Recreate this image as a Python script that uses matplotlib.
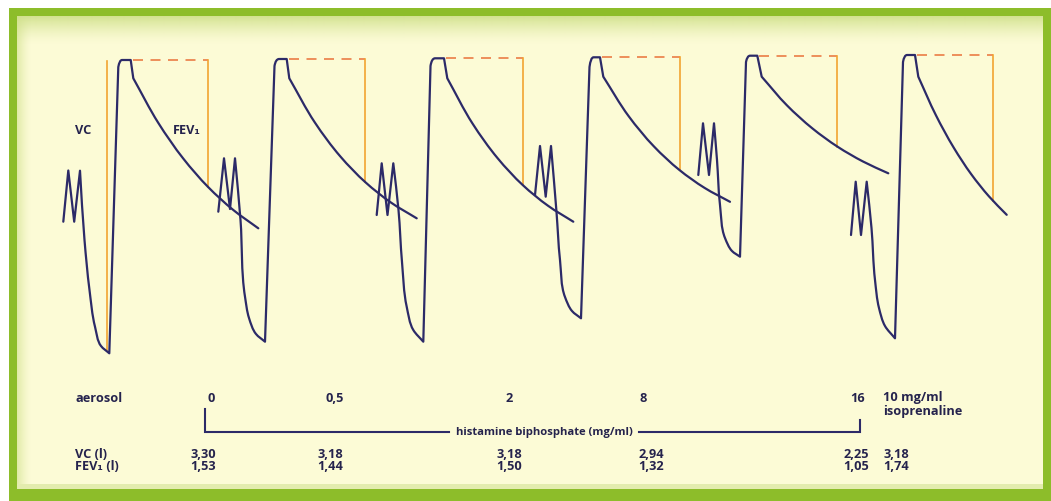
import numpy as np
import matplotlib
matplotlib.use("Agg")
import matplotlib.pyplot as plt
from matplotlib.path import Path
from matplotlib.patches import PathPatch, Rectangle

# ---------------- data ----------------
doses = ["0", "0,5", "2", "8", "16"]
vc_values = ["3,30", "3,18", "3,18", "2,94", "2,25", "3,18"]
fev1_values = ["1,53", "1,44", "1,50", "1,32", "1,05", "1,74"]
iso_label = ["10 mg/ml", "isoprenaline"]

# spirogram traces (drawing units = image pixels, y downward)
# order: tidal start, peak, valley, peak, 4 descent pts, bottom,
#        rise top, plateau start, plateau end, drop, 4 decay pts, end
trace1_x = [63.3, 68.3, 74.2, 80.0, 84.5, 89.5, 95.0, 101.0, 109.3, 118.3, 122.0, 130.7, 133.3, 158.3, 183.3, 208.3, 233.3, 258.3]
trace1_y = [221.7, 170.5, 221.7, 170.7, 240.0, 290.0, 326.7, 346.0, 353.3, 67.0, 60.0, 60.0, 78.3, 122.9, 158.6, 187.2, 210.0, 228.3]
trace2_x = [218.3, 224.0, 230.0, 235.0, 240.5, 245.0, 249.0, 256.0, 265.0, 274.5, 279.0, 286.7, 289.3, 314.8, 340.3, 365.8, 391.2, 416.7]
trace2_y = [211.7, 158.3, 209.0, 158.3, 220.0, 296.7, 318.0, 334.0, 341.7, 66.0, 59.0, 59.0, 78.3, 122.4, 156.4, 182.6, 202.7, 218.3]
trace3_x = [376.7, 381.7, 387.5, 393.3, 398.5, 402.0, 406.7, 413.3, 423.3, 430.5, 435.0, 444.0, 447.3, 472.5, 497.7, 522.9, 548.1, 573.3]
trace3_y = [215.0, 163.3, 215.0, 163.3, 210.0, 262.0, 306.7, 330.0, 341.7, 66.0, 58.3, 58.3, 78.3, 123.5, 158.3, 185.2, 205.8, 221.7]
trace4_x = [535.0, 540.0, 545.7, 551.0, 556.5, 560.0, 565.0, 572.0, 581.0, 589.5, 593.5, 600.0, 603.3, 628.6, 654.0, 679.3, 704.6, 730.0]
trace4_y = [195.0, 146.0, 196.7, 146.0, 212.0, 260.0, 297.0, 311.0, 318.3, 67.0, 57.3, 57.3, 76.7, 116.1, 146.5, 169.9, 187.9, 201.8]
trace5_x = [698.3, 703.0, 709.0, 714.0, 717.0, 720.0, 725.0, 732.0, 740.0, 746.0, 750.0, 757.3, 761.7, 787.0, 812.4, 837.7, 863.0, 888.3]
trace5_y = [175.0, 123.3, 175.0, 123.3, 160.0, 205.0, 238.0, 251.0, 256.7, 62.0, 55.7, 55.7, 76.7, 105.4, 128.4, 146.8, 161.5, 173.3]
trace6_x = [851.0, 855.7, 861.0, 866.7, 871.5, 875.0, 879.0, 885.0, 895.0, 903.0, 907.0, 915.0, 918.3, 936.0, 953.7, 971.3, 989.0, 1006.7]
trace6_y = [235.0, 181.7, 235.0, 181.7, 228.0, 280.0, 308.0, 326.0, 338.3, 62.0, 55.0, 55.0, 76.7, 115.4, 147.6, 174.3, 196.4, 214.8]

traces_x = [trace1_x, trace2_x, trace3_x, trace4_x, trace5_x, trace6_x]
traces_y = [trace1_y, trace2_y, trace3_y, trace4_y, trace5_y, trace6_y]

# FEV1 markers (x of vertical, y where it meets the curve)
fev1_mark_x = [208.3, 365.0, 522.7, 680.0, 837.3, 993.3]
fev1_mark_bottom = [187.0, 182.0, 185.0, 169.5, 146.5, 200.5]
# VC marker (first manoeuvre only)
vc_mark_x = [106.5]
vc_mark_top = [61.0]
vc_mark_bottom = [350.0]

# ---------------- style ----------------
W, H = 1051, 501
NAVY = "#2c2a68"
TEXT = "#25234d"
AMBER = "#f2a431"
DASH = "#eb7c45"
CREAM = "#fcfbd6"
GREEN = "#8dbd2a"
FONT = ["Open Sans", "DejaVu Sans"]

fig = plt.figure(figsize=(W / 100, H / 100), dpi=100, facecolor="white")
ax = fig.add_axes([0, 0, 1, 1])
ax.set_xlim(0, W)
ax.set_ylim(H, 0)
ax.axis("off")

# frame
ax.add_patch(Rectangle((9, 8), W - 9, H - 8, facecolor=GREEN, edgecolor="none", zorder=0))
ax.add_patch(Rectangle((17, 16), 1043 - 17, 489 - 16, facecolor=CREAM, edgecolor="none", zorder=0.5))
grad = np.zeros((40, 2, 4))
c0 = np.array(matplotlib.colors.to_rgb("#cfe08a"))
for i in range(40):
    grad[i, :, :3] = c0
    grad[i, :, 3] = max(0.0, 1 - i / 28) ** 1.5 * 0.9
ax.imshow(grad, extent=(17, 1043, 56, 16), aspect="auto", zorder=0.6, interpolation="bilinear")
gradl = np.zeros((2, 20, 4))
for j in range(20):
    gradl[:, j, :3] = c0
    gradl[:, j, 3] = max(0.0, 1 - j / 14) ** 1.5 * 0.6
ax.imshow(gradl, extent=(17, 37, 489, 16), aspect="auto", zorder=0.6, interpolation="bilinear")
ax.add_patch(Rectangle((17, 484), 1043 - 17, 5, facecolor="#e3ecae", edgecolor="none", zorder=0.7))


def smooth_bezier(points):
    """Cubic Bezier segments of a smooth (chord-length) spline through points."""
    p = np.asarray(points, float)
    n = len(p)
    d = np.maximum(np.linalg.norm(np.diff(p, axis=0), axis=1), 1e-6)
    m = np.zeros_like(p)
    m[0] = (p[1] - p[0]) / d[0]
    m[-1] = (p[-1] - p[-2]) / d[-1]
    for i in range(1, n - 1):
        s0 = (p[i] - p[i - 1]) / d[i - 1]
        s1 = (p[i + 1] - p[i]) / d[i]
        m[i] = (s0 * d[i] + s1 * d[i - 1]) / (d[i - 1] + d[i])
    verts, codes = [], []
    for i in range(n - 1):
        verts += [tuple(p[i] + m[i] * d[i] / 3), tuple(p[i + 1] - m[i + 1] * d[i] / 3), tuple(p[i + 1])]
        codes += [Path.CURVE4] * 3
    return verts, codes


for xs, ys in zip(traces_x, traces_y):
    P = list(zip(xs, ys))
    verts = [P[0], P[1], P[2], P[3]]
    codes = [Path.MOVETO, Path.LINETO, Path.LINETO, Path.LINETO]
    v, c = smooth_bezier(P[3:9])
    verts += v
    codes += c
    verts += [P[9], (P[9][0] + 1.2, P[10][1]), P[10], P[11], P[12]]
    codes += [Path.LINETO, Path.CURVE3, Path.CURVE3, Path.LINETO, Path.LINETO]
    v, c = smooth_bezier(P[12:18])
    verts += v
    codes += c
    ax.add_patch(PathPatch(Path(verts, codes), facecolor="none", edgecolor=NAVY,
                           lw=1.6, capstyle="round", joinstyle="round", zorder=3))

# FEV1 markers: dashed top line + vertical
for xs, ys, fx, fb in zip(traces_x, traces_y, fev1_mark_x, fev1_mark_bottom):
    top = ys[11]
    ax.plot([xs[11] + 2, fx], [top, top], color=DASH, lw=1.2, ls=(0, (6, 4.5)), zorder=2)
    ax.plot([fx, fx], [top, fb], color=AMBER, lw=1.2, zorder=2)

for vx, vt, vb in zip(vc_mark_x, vc_mark_top, vc_mark_bottom):
    ax.plot([vx, vx], [vt, vb], color=AMBER, lw=1.2, zorder=2)

tkw = dict(color=TEXT, family=FONT, fontweight="bold", fontsize=9.2, zorder=4)
ax.text(83, 131, "VC", ha="center", va="center", **tkw)
ax.text(187, 131, "FEV\u2081", ha="center", va="center", **tkw)

# aerosol row
row_aer, row_vc, row_fev = 398, 454, 467
dose_x = [211.5, 335, 509, 643, 858]
ax.text(75, row_aer, "aerosol", ha="left", va="center", **tkw)
for d, x in zip(doses, dose_x):
    ax.text(x, row_aer, d, ha="center", va="center", **tkw)
ax.text(883, row_aer, iso_label[0], ha="left", va="center", **tkw)
ax.text(883, row_aer + 14, iso_label[1], ha="left", va="center", **tkw)

# histamine bracket
br_y = 432
ax.plot([205, 205, 449], [409, br_y, br_y], color=NAVY, lw=1.5, zorder=3, solid_joinstyle="miter")
ax.plot([639, 860, 860], [br_y, br_y, 420], color=NAVY, lw=1.5, zorder=3, solid_joinstyle="miter")
hk = dict(tkw)
hk["fontsize"] = 8.1
ax.text(544, br_y, "histamine biphosphate (mg/ml)", ha="center", va="center", **hk)

# value rows
val_x = [203, 330.5, 509, 651.5, 856.5]
ax.text(75, row_vc, "VC (l)", ha="left", va="center", **tkw)
ax.text(75, row_fev, "FEV\u2081 (l)", ha="left", va="center", **tkw)
for i, x in enumerate(val_x):
    ax.text(x, row_vc, vc_values[i], ha="center", va="center", **tkw)
    ax.text(x, row_fev, fev1_values[i], ha="center", va="center", **tkw)
ax.text(883, row_vc, vc_values[5], ha="left", va="center", **tkw)
ax.text(883, row_fev, fev1_values[5], ha="left", va="center", **tkw)

fig.savefig("out.png", dpi=100, facecolor=fig.get_facecolor())
